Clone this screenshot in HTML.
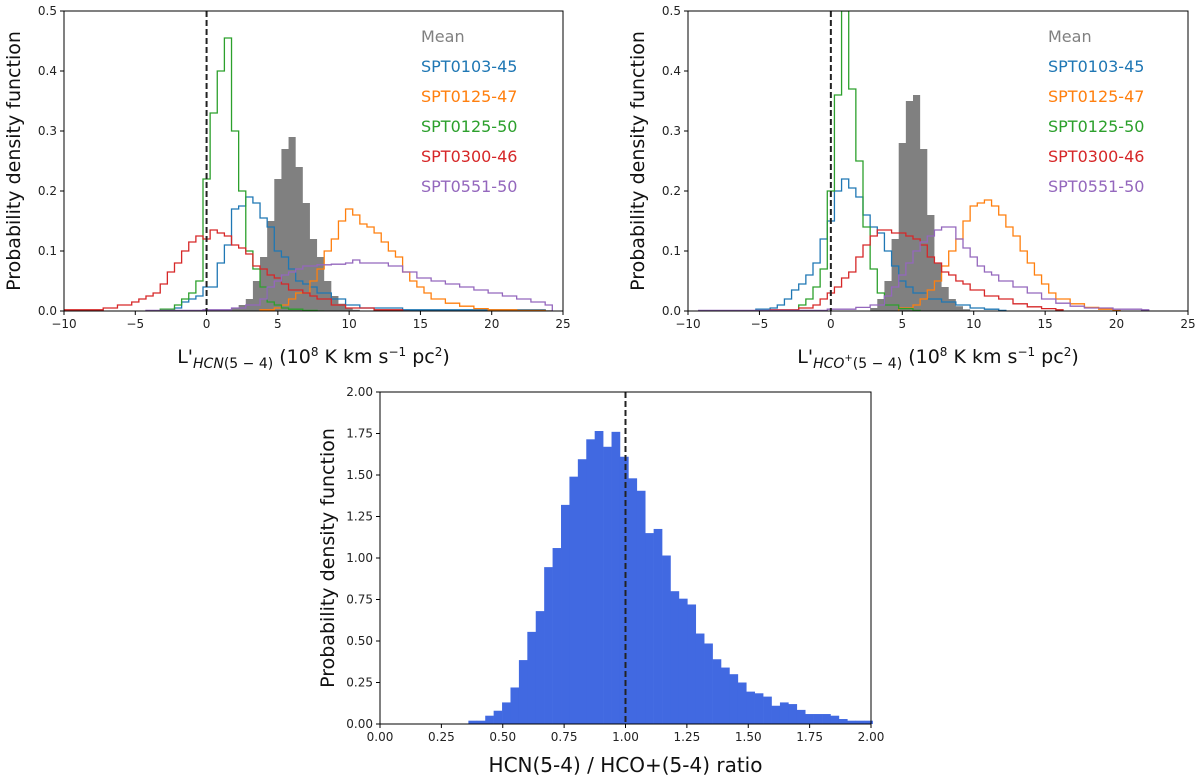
<!DOCTYPE html>
<html><head><meta charset="utf-8"><style>
body{margin:0;background:#fff;}
svg{display:block;font-family:"DejaVu Sans","Liberation Sans",sans-serif;}
</style></head><body>
<svg id="fig" width="1200" height="782" viewBox="0 0 1200 782" xmlns="http://www.w3.org/2000/svg"></svg>
<script>
// ---- data ----
const leftMeanX=[2,2.5,3,3.5,4,4.5,5,5.5,6,6.5,7,7.5,8,8.5,9,9.5,10,10.5];
const leftMeanY=[0.005,0.01,0.02,0.05,0.09,0.15,0.22,0.27,0.29,0.24,0.18,0.12,0.09,0.05,0.025,0.012,0.005,0.002];
const leftBlueX=[-2,-1.5,-1,-0.5,0,0.5,1,1.5,2,2.5,3,3.5,4,4.5,5,5.5,6,6.5,7,7.5,8,9,10,11,14,24];
const leftBlueY=[0.005,0.015,0.02,0.025,0.04,0.04,0.08,0.11,0.17,0.175,0.19,0.18,0.155,0.14,0.1,0.09,0.07,0.05,0.045,0.04,0.03,0.02,0.01,0.005,0.002,0];
const leftOrangeX=[4,5,5.5,6,6.5,7,7.5,8,8.5,9,9.5,10,10.5,11,11.5,12,12.5,13,13.5,14,14.5,15,15.5,16,17,18,19,20,22,24];
const leftOrangeY=[0.002,0.005,0.01,0.02,0.03,0.03,0.05,0.07,0.1,0.12,0.15,0.17,0.16,0.145,0.14,0.13,0.115,0.1,0.09,0.065,0.05,0.04,0.03,0.02,0.013,0.008,0.004,0.002,0.001,0];
const leftGreenX=[-3,-2,-1.5,-1,-0.5,0,0.5,1,1.5,2,2.5,3,3.5,4,4.5,5,5.5,6,7,8];
const leftGreenY=[0.003,0.01,0.02,0.03,0.05,0.22,0.33,0.4,0.455,0.3,0.2,0.1,0.07,0.04,0.015,0.01,0.005,0.003,0.001,0];
const leftRedX=[-10,-7,-6,-5,-4.5,-4,-3.5,-3,-2.5,-2,-1.5,-1,-0.5,0,0.5,1,1.5,2,2.5,3,3.5,4,4.5,5,5.5,6,7,7.5,8,9,10,12,14];
const leftRedY=[0.002,0.005,0.01,0.015,0.02,0.025,0.03,0.045,0.065,0.08,0.1,0.115,0.125,0.12,0.135,0.13,0.125,0.11,0.105,0.095,0.075,0.07,0.06,0.055,0.045,0.035,0.03,0.025,0.02,0.01,0.005,0.002,0];
const leftPurpleX=[-4,0,2,3,4,4.5,5,5.5,6,6.5,7,7.5,8,9,10,10.5,11,12,13,14,15,16,17,18,19,20,21,22,23,24];
const leftPurpleY=[0.001,0.002,0.005,0.01,0.02,0.04,0.05,0.06,0.065,0.07,0.075,0.075,0.077,0.078,0.08,0.085,0.08,0.08,0.075,0.065,0.055,0.05,0.045,0.04,0.035,0.03,0.025,0.02,0.015,0.01];

const rightMeanX=[3,3.5,4,4.5,5,5.5,6,6.5,7,7.5,8,8.5,9,9.5];
const rightMeanY=[0.005,0.02,0.05,0.12,0.28,0.35,0.36,0.27,0.16,0.08,0.04,0.02,0.008,0.003];
const rightBlueX=[-5,-4,-3.5,-3,-2.5,-2,-1.5,-1,-0.5,0,0.5,1,1.5,2,2.5,3,3.5,4,4.5,5,5.5,6,7,8,9,10,11,12];
const rightBlueY=[0.003,0.005,0.01,0.02,0.035,0.045,0.06,0.08,0.12,0.15,0.2,0.22,0.205,0.19,0.16,0.14,0.13,0.1,0.075,0.05,0.04,0.03,0.02,0.015,0.01,0.005,0.003,0.001];
const rightOrangeX=[5,6,6.5,7,7.5,8,8.5,9,9.5,10,10.5,11,11.5,12,12.5,13,13.5,14,14.5,15,15.5,16,17,18,19,20];
const rightOrangeY=[0.005,0.01,0.02,0.035,0.05,0.075,0.1,0.12,0.15,0.175,0.18,0.185,0.175,0.16,0.14,0.125,0.1,0.08,0.06,0.045,0.03,0.02,0.012,0.006,0.003,0.001];
const rightGreenX=[-2,-1.5,-1,-0.5,0,0.5,1,1.5,2,2.5,3,3.5,4,5,6];
const rightGreenY=[0.01,0.02,0.04,0.07,0.2,0.36,0.5,0.37,0.25,0.14,0.07,0.03,0.01,0.004,0.001];
const rightRedX=[-4,-2,-1,-0.5,0,0.5,1,1.5,2,2.5,3,3.5,4,4.5,5,5.5,6,6.5,7,7.5,8,8.5,9,9.5,10,11,12,13,14,15,16];
const rightRedY=[0.002,0.005,0.01,0.02,0.03,0.04,0.055,0.065,0.09,0.11,0.125,0.135,0.135,0.13,0.13,0.125,0.12,0.11,0.09,0.08,0.065,0.06,0.05,0.045,0.035,0.025,0.02,0.012,0.007,0.004,0.002];
const rightPurpleX=[-9,0,2,3,4,4.5,5,5.5,6,6.5,7,7.5,8,8.5,9,9.5,10,10.5,11,11.5,12,13,14,15,16,17,18,20,22];
const rightPurpleY=[0.001,0.003,0.006,0.01,0.025,0.04,0.06,0.08,0.1,0.115,0.125,0.135,0.14,0.14,0.12,0.105,0.09,0.075,0.065,0.06,0.05,0.04,0.03,0.02,0.013,0.008,0.005,0.003,0.002];

const ratioStart=0.36, ratioWidth=0.0343;
const ratioY=[0.02,0.02,0.05,0.08,0.13,0.22,0.385,0.555,0.68,0.945,1.06,1.32,1.49,1.595,1.715,1.765,1.67,1.76,1.61,1.48,1.405,1.15,1.175,1.015,0.80,0.755,0.72,0.545,0.485,0.39,0.34,0.30,0.25,0.195,0.185,0.165,0.11,0.13,0.12,0.085,0.06,0.06,0.06,0.05,0.03,0.02,0.02,0.02];

const topXTicks=[-10,-5,0,5,10,15,20,25];
const topYTicks=[0.0,0.1,0.2,0.3,0.4,0.5];
const botXTicks=[0,0.25,0.5,0.75,1,1.25,1.5,1.75,2];
const botYTicks=[0,0.25,0.5,0.75,1,1.25,1.5,1.75,2];
const legendNames=["Mean","SPT0103-45","SPT0125-47","SPT0125-50","SPT0300-46","SPT0551-50"];
const legendColors=["#808080","#1f77b4","#ff7f0e","#2ca02c","#d62728","#9467bd"];

const NS="http://www.w3.org/2000/svg";
const fig=document.getElementById('fig');
function mk(tag,attrs,parent,text){const e=document.createElementNS(NS,tag);for(const k in attrs)e.setAttribute(k,attrs[k]);if(text!==undefined)e.textContent=text;(parent||fig).appendChild(e);return e;}

// x values are bin centres
function stepPath(xs,ys,sx,sy,w){
  const h=w/2;
  let d="M"+sx(xs[0]-h)+","+sy(0);
  for(let i=0;i<xs.length;i++){
    const x0=xs[i]-h,x1=(i+1<xs.length)?xs[i+1]-h:xs[i]+h;
    d+=" L"+sx(x0)+","+sy(ys[i])+" L"+sx(x1)+","+sy(ys[i]);
  }
  d+=" L"+sx(xs[xs.length-1]+h)+","+sy(0);
  return d;
}

function topPanel(name,L,R,T,B,series,meanX,meanY,labelMain,sub,legendX){
  const g=mk('g',{});
  
  
  const sx=v=>L+(v+10)/35*(R-L), sy=v=>B-v/0.5*(B-T);
  const clip=mk('clipPath',{id:name+'-clip'},g);mk('rect',{x:L,y:T,width:R-L,height:B-T},clip);
  const pg=mk('g',{'clip-path':'url(#'+name+'-clip)'},g);
  const mp=mk('path',{d:stepPath(meanX,meanY,sx,sy,0.5),fill:'#808080',stroke:'none'},pg);
  
  
  series.forEach((s,i)=>{
    const p=mk('path',{d:stepPath(s[0],s[1],sx,sy,0.5),fill:'none',stroke:legendColors[i+1],'stroke-width':1.3},pg);
    
    
  });
  const dl=mk('line',{x1:sx(0),x2:sx(0),y1:T,y2:B,stroke:'#222','stroke-width':2,'stroke-dasharray':'6,3'},g);
  
  
  mk('rect',{x:L,y:T,width:R-L,height:B-T,fill:'none',stroke:'#000','stroke-width':1},g);
  topXTicks.forEach(v=>{mk('line',{x1:sx(v),x2:sx(v),y1:B,y2:B+4,stroke:'#000'},g);
    const t=mk('text',{x:sx(v),y:B+17,'font-size':12,'text-anchor':'middle',fill:'#222'},g,v<0?'−'+(-v):String(v));
    });
  topYTicks.forEach(v=>{mk('line',{x1:L-4,x2:L,y1:sy(v),y2:sy(v),stroke:'#000'},g);
    const t=mk('text',{x:L-7,y:sy(v)+4,'font-size':12,'text-anchor':'end',fill:'#222'},g,v.toFixed(1));
    });
  const yl=mk('text',{x:0,y:0,'font-size':19,'text-anchor':'middle',fill:'#111',transform:'translate('+(L-44)+','+((T+B)/2)+') rotate(-90)'},g,'Probability density function');
  
  const xl=mk('text',{x:(L+R)/2,y:B+52,'font-size':19,'text-anchor':'middle',fill:'#111'},g);
  
  mk('tspan',{},xl,"L'");
  mk('tspan',{'font-size':14,'font-style':'italic',dy:5},xl,sub[0]);
  if(sub[1]){mk('tspan',{'font-size':10,'font-style':'italic',dy:-7},xl,sub[1]);mk('tspan',{'font-size':14,dy:7},xl,'(5 − 4)');}
  else mk('tspan',{'font-size':14},xl,'(5 − 4)');
  mk('tspan',{dy:-5},xl,' (10');mk('tspan',{'font-size':12,dy:-7},xl,'8');
  mk('tspan',{dy:7},xl,' K km s');mk('tspan',{'font-size':12,dy:-7},xl,'−1');
  mk('tspan',{dy:7},xl,' pc');mk('tspan',{'font-size':12,dy:-7},xl,'2');mk('tspan',{dy:7},xl,')');
  legendNames.forEach((n,i)=>{const t=mk('text',{x:legendX,y:42+i*30,'font-size':16,fill:legendColors[i]},g,n);
    });
}
topPanel('hcn-panel',64,563,11,311,[[leftBlueX,leftBlueY],[leftOrangeX,leftOrangeY],[leftGreenX,leftGreenY],[leftRedX,leftRedY],[leftPurpleX,leftPurpleY]],leftMeanX,leftMeanY,'',['HCN',''],421);
topPanel('hcop-panel',688,1188,11,311,[[rightBlueX,rightBlueY],[rightOrangeX,rightOrangeY],[rightGreenX,rightGreenY],[rightRedX,rightRedY],[rightPurpleX,rightPurpleY]],rightMeanX,rightMeanY,'',['HCO','+'],1048);

// bottom panel
(function(){
  const L=380,R=871,T=392,B=724;
  const g=mk('g',{});
  
  
  const sx=v=>L+v/2*(R-L), sy=v=>B-v/2*(B-T);
  ratioY.forEach((v,i)=>{const x0=ratioStart+i*ratioWidth;
    const r=mk('rect',{x:sx(x0),y:sy(v),width:sx(x0+ratioWidth)-sx(x0)+0.3,height:sy(0)-sy(v),fill:'#4169e1'},g);
    });
  const dl=mk('line',{x1:sx(1),x2:sx(1),y1:T,y2:B,stroke:'#222','stroke-width':2,'stroke-dasharray':'6,3'},g);
  
  mk('rect',{x:L,y:T,width:R-L,height:B-T,fill:'none',stroke:'#000'},g);
  botXTicks.forEach(v=>{mk('line',{x1:sx(v),x2:sx(v),y1:B,y2:B+4,stroke:'#000'},g);
    const t=mk('text',{x:sx(v),y:B+17,'font-size':12,'text-anchor':'middle',fill:'#222'},g,v.toFixed(2));
    });
  botYTicks.forEach(v=>{mk('line',{x1:L-4,x2:L,y1:sy(v),y2:sy(v),stroke:'#000'},g);
    const t=mk('text',{x:L-7,y:sy(v)+4,'font-size':12,'text-anchor':'end',fill:'#222'},g,v.toFixed(2));
    });
  const yl=mk('text',{x:0,y:0,'font-size':19,'text-anchor':'middle',fill:'#111',transform:'translate(334,'+((T+B)/2)+') rotate(-90)'},g,'Probability density function');
  
  const xl=mk('text',{x:(L+R)/2,y:772,'font-size':20,'text-anchor':'middle',fill:'#111'},g,'HCN(5-4) / HCO+(5-4) ratio');
  
})();
</script>
</body></html>
